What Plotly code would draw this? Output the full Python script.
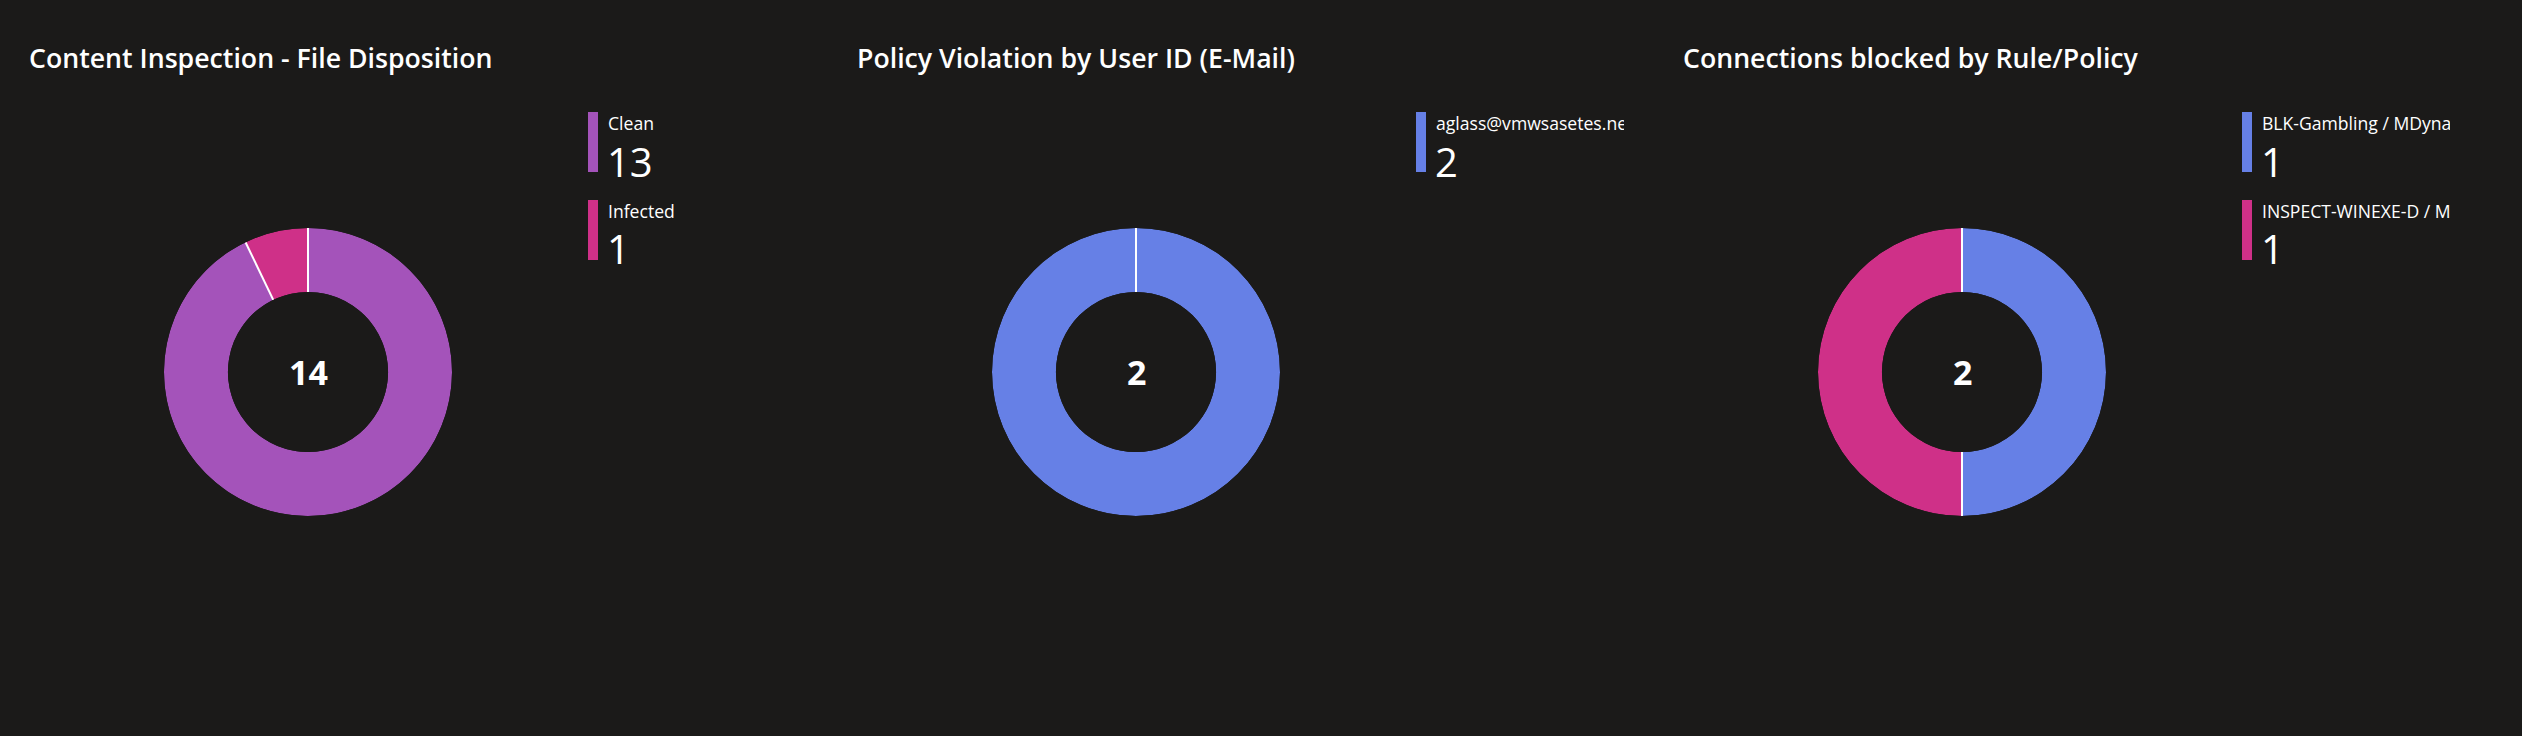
import plotly.graph_objects as go

W, H = 2522, 736
BG = "#1b1a19"
FONT = "Open Sans"

titles = ["Content Inspection - File Disposition",
          "Policy Violation by User ID (E-Mail)",
          "Connections blocked by Rule/Policy"]

cat1 = ["Clean", "Infected"]
val1 = [13, 1]
col1 = ["#a453ba", "#cf3088"]

cat2 = ["aglass@vmwsasetes.net"]
val2 = [2]
col2 = ["#6680e6"]

cat3 = ["BLK-Gambling / MDynamic", "INSPECT-WINEXE-D / MDynamic"]
val3 = [1, 1]
col3 = ["#6680e6", "#cf3088"]

charts = [(cat1, val1, col1), (cat2, val2, col2), (cat3, val3, col3)]

# layout constants (pixels)
panel_left = [0, 828, 1654]
cx_off, cy, R, HOLE = 308, 372, 144, 0.556
title_dx, title_y = 27, 57


def px(x):
    return x / W


def py(y):
    return 1 - y / H


fig = go.Figure()
shapes, annotations = [], []
for i, (cats, vals, cols) in enumerate(charts):
    left = panel_left[i]
    cx = left + cx_off
    total = sum(vals)
    # slice geometry from data (degrees)
    starts, acc = [], 0
    for v in vals:
        starts.append(acc / total * 360)
        acc += v
    widths = [v / total * 360 for v in vals]
    centers = [s + w / 2 for s, w in zip(starts, widths)]
    pname = "polar" if i == 0 else f"polar{i+1}"
    fig.add_trace(go.Barpolar(
        r=[1] * len(vals), theta=centers, width=widths,
        marker=dict(color=cols, line=dict(width=0)),
        customdata=vals, text=cats,
        hovertemplate="%{text}: %{customdata}<extra></extra>",
        subplot=pname, showlegend=False))
    # white separators at slice boundaries
    sr, st = [], []
    for s in starts:
        sr += [0, 1, None]
        st += [s, s, None]
    fig.add_trace(go.Scatterpolar(
        r=sr, theta=st, mode="lines", line=dict(color="#ffffff", width=2),
        hoverinfo="skip", subplot=pname, showlegend=False, cliponaxis=False))
    fig.update_layout(**{pname: dict(
        domain=dict(x=[px(cx - R), px(cx + R)], y=[py(cy + R), py(cy - R)]),
        bgcolor="rgba(0,0,0,0)",
        hole=HOLE,
        radialaxis=dict(range=[0, 1], visible=False),
        angularaxis=dict(direction="clockwise", rotation=90, visible=False),
    )})
    # title
    annotations.append(dict(x=px(left + title_dx), y=py(title_y), xref="paper", yref="paper",
                            xanchor="left", yanchor="middle", showarrow=False,
                            text=titles[i],
                            font=dict(family=FONT, size=26.7, color="#ffffff", weight=600)))
    # center total
    annotations.append(dict(x=px(cx), y=py(cy), xref="paper", yref="paper",
                            xanchor="center", yanchor="middle", showarrow=False,
                            text=str(total),
                            font=dict(family=FONT, size=34, color="#ffffff", weight=700)))
    # custom legend
    for j, (c, v, col) in enumerate(zip(cats, vals, cols)):
        top = 112 + 88 * j
        bx = cx + 280
        shapes.append(dict(type="rect", xref="paper", yref="paper",
                           x0=px(bx), x1=px(bx + 10), y0=py(top + 60), y1=py(top),
                           fillcolor=col, line=dict(width=0)))
        annotations.append(dict(x=px(bx + 18), y=py(top + 11), xref="paper", yref="paper",
                                xanchor="left", yanchor="middle", showarrow=False,
                                text=c, width=188, align="left",
                                font=dict(family=FONT, size=17.6, color="#ffffff", weight=500)))
        annotations.append(dict(x=px(bx + 17), y=py(top + 49), xref="paper", yref="paper",
                                xanchor="left", yanchor="middle", showarrow=False,
                                text=str(v),
                                font=dict(family=FONT, size=40, color="#ffffff", weight=500)))

fig.update_layout(width=W, height=H, margin=dict(l=0, r=0, t=0, b=0),
                  paper_bgcolor=BG, plot_bgcolor=BG,
                  shapes=shapes, annotations=annotations)
fig.write_html("out.html", config={"displayModeBar": False},
               post_script="document.body.style.margin='0';document.body.style.background='%s';" % BG)
